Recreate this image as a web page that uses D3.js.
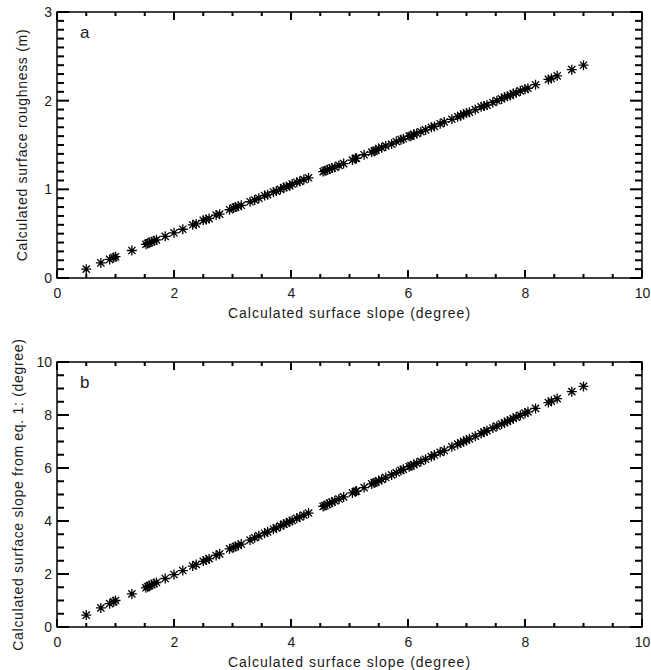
<!DOCTYPE html>
<html>
<head>
<meta charset="utf-8">
<script src="https://cdn.jsdelivr.net/npm/d3@7"></script>
<style>
  html, body { margin: 0; padding: 0; background: #fff; }
  svg text { font-family: "Liberation Sans", Arial, sans-serif; fill: #1a1a1a; }
</style>
</head>
<body>
<svg id="fig" width="651" height="670"></svg>
<script>
// Calculated surface slope (degree), shared x values of both panels
const slope = [0.50, 0.75, 0.90, 0.97, 1.00, 1.28, 1.52, 1.55, 1.58, 1.62, 1.66, 1.70, 1.85, 2.00,
  2.15, 2.32, 2.38, 2.50, 2.55, 2.60, 2.72, 2.78, 2.95, 3.02, 3.05, 3.10, 3.15, 3.30, 3.38, 3.45,
  3.55, 3.60, 3.70, 3.75, 3.82, 3.88, 3.92, 3.98, 4.02, 4.10, 4.15, 4.22, 4.30, 4.55, 4.58, 4.62,
  4.66, 4.70, 4.75, 4.82, 4.90, 5.05, 5.10, 5.12, 5.25, 5.38, 5.42, 5.45, 5.50, 5.55, 5.62, 5.72,
  5.80, 5.88, 5.92, 6.02, 6.05, 6.10, 6.15, 6.22, 6.30, 6.40, 6.45, 6.55, 6.62, 6.75, 6.85, 6.90,
  6.95, 7.00, 7.05, 7.15, 7.25, 7.30, 7.35, 7.45, 7.52, 7.60, 7.65, 7.70, 7.75, 7.80, 7.85, 7.92,
  8.00, 8.05, 8.18, 8.40, 8.45, 8.55, 8.80, 9.00];

// Panel a: calculated surface roughness (m)
const roughness = [0.10, 0.17, 0.21, 0.23, 0.24, 0.31, 0.38, 0.39, 0.40, 0.41, 0.42, 0.43, 0.47, 0.51,
  0.55, 0.60, 0.61, 0.65, 0.66, 0.67, 0.71, 0.72, 0.77, 0.79, 0.80, 0.81, 0.82, 0.86, 0.88, 0.90,
  0.93, 0.94, 0.97, 0.98, 1.00, 1.02, 1.03, 1.04, 1.06, 1.08, 1.09, 1.11, 1.13, 1.20, 1.21, 1.22,
  1.23, 1.24, 1.25, 1.27, 1.29, 1.33, 1.35, 1.35, 1.39, 1.42, 1.43, 1.44, 1.46, 1.47, 1.49, 1.51,
  1.54, 1.56, 1.57, 1.60, 1.60, 1.62, 1.63, 1.65, 1.67, 1.70, 1.71, 1.74, 1.76, 1.79, 1.82, 1.83,
  1.85, 1.86, 1.87, 1.90, 1.93, 1.94, 1.95, 1.98, 2.00, 2.02, 2.04, 2.05, 2.06, 2.08, 2.09, 2.11,
  2.13, 2.14, 2.18, 2.24, 2.25, 2.28, 2.35, 2.40];

// Panel b: surface slope recomputed from eq. 1 (degree)
const slopeEq = [0.45, 0.72, 0.88, 0.95, 1.00, 1.25, 1.48, 1.52, 1.56, 1.60, 1.64, 1.68, 1.83, 1.98,
  2.13, 2.30, 2.36, 2.48, 2.53, 2.58, 2.70, 2.76, 2.95, 3.00, 3.04, 3.08, 3.13, 3.28, 3.37, 3.44,
  3.54, 3.59, 3.69, 3.74, 3.81, 3.88, 3.92, 3.98, 4.02, 4.10, 4.15, 4.22, 4.30, 4.55, 4.58, 4.63,
  4.67, 4.71, 4.76, 4.83, 4.91, 5.06, 5.11, 5.13, 5.26, 5.40, 5.44, 5.47, 5.52, 5.57, 5.64, 5.74,
  5.82, 5.91, 5.95, 6.05, 6.08, 6.13, 6.18, 6.25, 6.33, 6.43, 6.49, 6.59, 6.66, 6.80, 6.90, 6.95,
  7.00, 7.05, 7.10, 7.20, 7.30, 7.36, 7.41, 7.51, 7.58, 7.66, 7.71, 7.76, 7.81, 7.87, 7.92, 7.99,
  8.07, 8.12, 8.25, 8.47, 8.52, 8.62, 8.88, 9.08];

// Tick labels
const xTicks = [0, 2, 4, 6, 8, 10];
const yTicksA = [0, 1, 2, 3];
const yTicksB = [0, 2, 4, 6, 8, 10];

const svg = d3.select("#fig");

const panels = [
  { tag: "a", top: 12, bottom: 278, y: roughness, yDomain: [0, 3], yTicks: yTicksA, yMinor: 0.1,
    yTitle: "Calculated surface roughness (m)", yTitleX: 27 },
  { tag: "b", top: 362, bottom: 627, y: slopeEq, yDomain: [0, 10], yTicks: yTicksB, yMinor: 0.5,
    yTitle: "Calculated surface slope from eq. 1: (degree)", yTitleX: 23 }
];

const left = 57, right = 642;

function range(a, b, step) {
  const out = [];
  const n = Math.round((b - a) / step);
  for (let i = 0; i <= n; i++) out.push(+(a + i * step).toFixed(6));
  return out;
}

panels.forEach(p => {
  const x = d3.scaleLinear().domain([0, 10]).range([left, right]);
  const y = d3.scaleLinear().domain(p.yDomain).range([p.bottom, p.top]);
  const g = svg.append("g");
  const h = p.bottom - p.top, w = right - left;
  const xMaj = 8, xMin = 4;
  const yMaj = 12, yMin = 7;

  const xMinorVals = range(0, 10, 0.5).filter(v => !xTicks.includes(v));
  const yMinorVals = range(p.yDomain[0], p.yDomain[1], p.yMinor)
    .filter(v => !p.yTicks.some(t => Math.abs(t - v) < 1e-6));

  // tick labels through the axis generators
  g.append("g").attr("transform", `translate(0,${p.bottom})`)
    .call(d3.axisBottom(x).tickValues(xTicks).tickSize(0).tickPadding(10).tickFormat(d3.format("d")));
  g.append("g").attr("transform", `translate(${left},0)`)
    .call(d3.axisLeft(y).tickValues(p.yTicks).tickSize(0).tickPadding(5).tickFormat(d3.format("d")));
  g.selectAll(".domain").remove();
  g.selectAll(".tick line").remove();
  g.selectAll(".tick text").attr("font-size", 14).attr("fill", "#1a1a1a")
    .style("font-family", '"Liberation Sans", Arial, sans-serif');

  // inward ticks on all four sides
  const xt = xTicks.map(v => [v, xMaj]).concat(xMinorVals.map(v => [v, xMin]));
  const yt = p.yTicks.map(v => [v, yMaj]).concat(yMinorVals.map(v => [v, yMin]));
  const tk = g.append("g").attr("fill", "#000");
  tk.selectAll("rect.xb").data(xt).join("rect").attr("class", "xb")
    .attr("x", d => x(d[0]) - 1).attr("width", 2)
    .attr("y", d => p.bottom - d[1]).attr("height", d => d[1]);
  tk.selectAll("rect.xt").data(xt).join("rect").attr("class", "xt")
    .attr("x", d => x(d[0]) - 1).attr("width", 2)
    .attr("y", p.top).attr("height", d => d[1]);
  tk.selectAll("rect.yl").data(yt).join("rect").attr("class", "yl")
    .attr("y", d => y(d[0]) - 1).attr("height", 2)
    .attr("x", left).attr("width", d => d[1]);
  tk.selectAll("rect.yr").data(yt).join("rect").attr("class", "yr")
    .attr("y", d => y(d[0]) - 1).attr("height", 2)
    .attr("x", d => right - d[1]).attr("width", d => d[1]);

  // frame
  g.append("rect").attr("x", left).attr("y", p.top).attr("width", w).attr("height", h)
    .attr("fill", "none").attr("stroke", "#000").attr("stroke-width", 1.5);

  // asterisk markers
  const r = 5, rd = r * 0.72;
  const pts = g.append("g").attr("stroke", "#000").attr("stroke-width", 1.3).attr("fill", "none");
  pts.selectAll("path").data(slope.map((s, i) => [s, p.y[i]])).join("path")
    .attr("d", d => {
      const cx = x(d[0]), cy = y(d[1]);
      return `M${cx - r},${cy}H${cx + r}M${cx},${cy - r}V${cy + r}` +
        `M${cx - rd},${cy - rd}L${cx + rd},${cy + rd}M${cx - rd},${cy + rd}L${cx + rd},${cy - rd}`;
    });

  // panel tag
  g.append("text").attr("x", 80).attr("y", p.top + 26).attr("font-size", 17).text(p.tag);

  // axis titles
  g.append("text").attr("x", (left + right) / 2).attr("y", p.bottom + 40)
    .attr("text-anchor", "middle").attr("font-size", 14).attr("letter-spacing", 1)
    .text("Calculated surface slope (degree)");
  g.append("text").attr("transform", `translate(${p.yTitleX},${(p.top + p.bottom) / 2}) rotate(-90)`)
    .attr("text-anchor", "middle").attr("font-size", 14).attr("letter-spacing", 0.7).text(p.yTitle);
});
</script>
</body>
</html>
